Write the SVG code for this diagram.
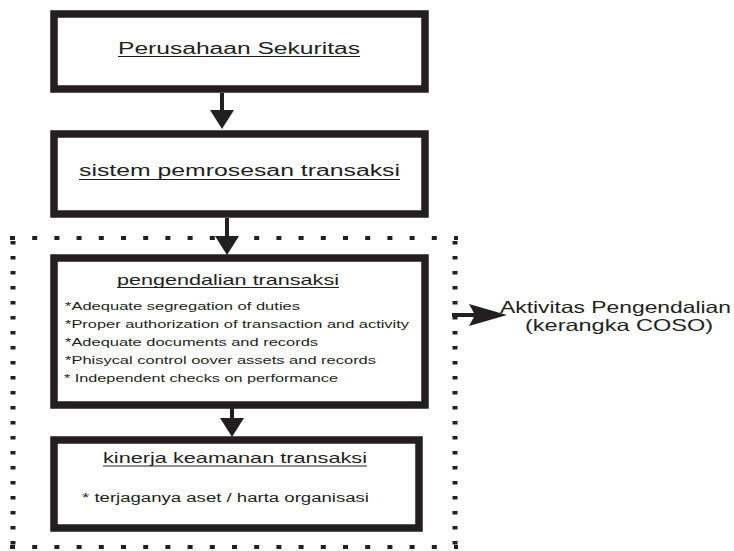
<svg xmlns="http://www.w3.org/2000/svg" width="734" height="551" viewBox="0 0 734 551">
<style>
.box{fill:#fff;stroke:#231f20;stroke-width:7.5}
.t{font-family:"Liberation Sans",Arial,sans-serif;fill:#231f20}
.ul{stroke:#231f20;stroke-width:1}
.con{stroke:#231f20;stroke-width:4;fill:none}
.dot{stroke:#231f20;fill:none}
</style>
<defs>
<marker id="ah" markerUnits="userSpaceOnUse" markerWidth="20" markerHeight="24" viewBox="0 -12 20 24" refX="0" refY="0" orient="auto">
<path d="M0,-12 L19,0 L0,12 Z" fill="#231f20"/>
</marker>
<marker id="dart" markerUnits="userSpaceOnUse" markerWidth="40" markerHeight="24" viewBox="0 -12 40 24" refX="0" refY="0" orient="auto">
<path d="M0,-11 L38,0 L0,11 L6,0 Z" fill="#231f20"/>
</marker>
</defs>
<rect width="734" height="551" fill="#fff"/>
<g id="frame">
<line class="dot" x1="10" y1="238" x2="458" y2="238" stroke-width="4" stroke-dasharray="5 17.2"/>
<line class="dot" x1="10" y1="547" x2="458" y2="547" stroke-width="4" stroke-dasharray="5 17.2"/>
<line class="dot" x1="13" y1="241" x2="13" y2="551" stroke-width="5" stroke-dasharray="3.5 11.5"/>
<line class="dot" x1="455" y1="241" x2="455" y2="551" stroke-width="5" stroke-dasharray="3.5 11.5"/>
</g>
<g id="connectors">
<line class="con" x1="222" y1="93" x2="222" y2="110" marker-end="url(#ah)"/>
<line class="con" x1="227" y1="218" x2="227" y2="236" marker-end="url(#ah)"/>
<line class="con" x1="232" y1="408" x2="232" y2="418" marker-end="url(#ah)"/>
<line class="con" x1="452" y1="315" x2="469" y2="315" stroke-width="5" marker-end="url(#dart)"/>
<line class="con" x1="452" y1="315" x2="477" y2="315" stroke-width="5"/>
</g>
<g id="n1">
<rect class="box" x="54" y="14" width="371" height="75"/>
<text class="t" x="118" y="54" font-size="16" textLength="242" lengthAdjust="spacingAndGlyphs">Perusahaan Sekuritas</text>
<line class="ul" x1="118" y1="56.5" x2="360" y2="56.5"/>
</g>
<g id="n2">
<rect class="box" x="54" y="134" width="371" height="80"/>
<text class="t" x="79" y="176" font-size="16" textLength="321" lengthAdjust="spacingAndGlyphs">sistem pemrosesan transaksi</text>
<line class="ul" x1="79" y1="179.5" x2="400" y2="179.5"/>
</g>
<g id="n3">
<rect class="box" x="54" y="258" width="371" height="147"/>
<text class="t" x="117" y="285" font-size="14.5" textLength="222" lengthAdjust="spacingAndGlyphs">pengendalian transaksi</text>
<line class="ul" x1="117" y1="287.5" x2="339" y2="287.5"/>
<text class="t" x="65" y="310" font-size="11.5" textLength="235" lengthAdjust="spacingAndGlyphs">*Adequate segregation of duties</text>
<text class="t" x="65" y="328" font-size="11.5" textLength="344" lengthAdjust="spacingAndGlyphs">*Proper authorization of transaction and activity</text>
<text class="t" x="65" y="346" font-size="11.5" textLength="253" lengthAdjust="spacingAndGlyphs">*Adequate documents and records</text>
<text class="t" x="65" y="364" font-size="11.5" textLength="311" lengthAdjust="spacingAndGlyphs">*Phisycal control oover assets and records</text>
<text class="t" x="64" y="382" font-size="11.5" textLength="274" lengthAdjust="spacingAndGlyphs">* Independent checks on performance</text>
</g>
<g id="n4">
<rect class="box" x="54" y="440" width="365" height="88"/>
<text class="t" x="103" y="463" font-size="15" textLength="264" lengthAdjust="spacingAndGlyphs">kinerja keamanan transaksi</text>
<line class="ul" x1="103" y1="466" x2="367" y2="466"/>
<text class="t" x="82" y="502" font-size="12.5" textLength="287" lengthAdjust="spacingAndGlyphs">* terjaganya aset / harta organisasi</text>
</g>
<g id="n5">
<text class="t" x="500" y="313" font-size="16.5" textLength="231" lengthAdjust="spacingAndGlyphs">Aktivitas Pengendalian</text>
<text class="t" x="525" y="331" font-size="16.5" textLength="188" lengthAdjust="spacingAndGlyphs">(kerangka COSO)</text>
</g>
</svg>
